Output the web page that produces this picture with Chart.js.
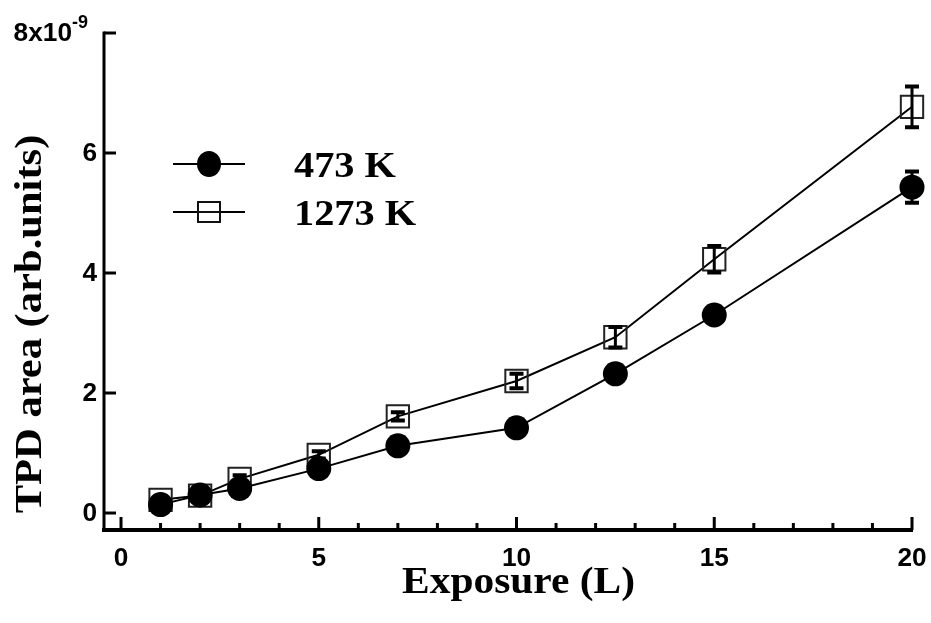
<!DOCTYPE html>
<html>
<head>
<meta charset="utf-8">
<script src="https://cdn.jsdelivr.net/npm/chart.js@4"></script>
<style>
html,body{margin:0;padding:0;background:#fff;}
#wrap{width:931px;height:623px;position:relative;}
</style>
</head>
<body>
<div id="wrap"><canvas id="c" width="931" height="623"></canvas></div>
<script>
// ---- data ----
const exposure = [1, 2, 3, 5, 7, 10, 12.5, 15, 20];
const area473 = [0.14, 0.30, 0.41, 0.74, 1.12, 1.42, 2.32, 3.30, 5.43];
const err473 = [0, 0, 0, 0, 0, 0, 0, 0, 0.26];
const area1273 = [0.22, 0.29, 0.57, 0.97, 1.61, 2.20, 2.93, 4.23, 6.77];
const err1273 = [0, 0, 0.06, 0.06, 0.07, 0.12, 0.17, 0.22, 0.34];
const seriesLabels = ['473 K', '1273 K'];
const xTickValues = [0, 5, 10, 15, 20];
const xTickLabels = ['0', '5', '10', '15', '20'];
const xMinorValues = [1, 2, 3, 4, 6, 7, 8, 9, 11, 12, 13, 14, 16, 17, 18, 19];
const yTickValues = [0, 2, 4, 6, 8];
const yTickLabels = ['0', '2', '4', '6', '8x10'];
const yExponent = '-9';
const xTitle = 'Exposure (L)';
const yTitle = 'TPD area (arb.units)';

const SERIF = '"Liberation Serif", "Times New Roman", serif';
const SANS = '"Liberation Sans", Arial, sans-serif';

function toPoints(xs, ys) { return xs.map((x, i) => ({ x: x, y: ys[i] })); }

function scaledText(ctx, text, x, y, align, sx) {
  ctx.save();
  ctx.translate(x, y);
  ctx.scale(sx, 1);
  ctx.textAlign = align;
  ctx.fillText(text, 0, 0);
  ctx.restore();
}

const axesPlugin = {
  id: 'axesPlugin',
  afterDatasetsDraw(chart) {
    const ctx = chart.ctx;
    const xs = chart.scales.x, ys = chart.scales.y;
    const ca = chart.chartArea;
    ctx.save();
    ctx.strokeStyle = '#000';
    ctx.fillStyle = '#000';
    // error bars
    const drawErr = (vals, errs) => {
      vals.forEach((v, i) => {
        const e = errs[i];
        if (!e) return;
        const px = xs.getPixelForValue(exposure[i]);
        const top = ys.getPixelForValue(v + e);
        const bot = ys.getPixelForValue(v - e);
        ctx.lineWidth = 3;
        ctx.beginPath();
        ctx.moveTo(px, top); ctx.lineTo(px, bot);
        ctx.stroke();
        ctx.lineWidth = 4;
        ctx.beginPath();
        ctx.moveTo(px - 7, top); ctx.lineTo(px + 7, top);
        ctx.moveTo(px - 7, bot); ctx.lineTo(px + 7, bot);
        ctx.stroke();
      });
    };
    drawErr(area1273, err1273);
    drawErr(area473, err473);

    // axes lines
    ctx.lineCap = 'butt';
    ctx.lineWidth = 4;
    ctx.beginPath();
    ctx.moveTo(ca.left - 2, ca.bottom);
    ctx.lineTo(ca.right + 1, ca.bottom);
    ctx.stroke();
    ctx.lineWidth = 3;
    ctx.beginPath();
    ctx.moveTo(ca.left, ys.getPixelForValue(8) - 1.5);
    ctx.lineTo(ca.left, ca.bottom);
    ctx.stroke();
    // x ticks (inward, up)
    ctx.lineWidth = 3;
    xTickValues.forEach(v => {
      const px = xs.getPixelForValue(v);
      ctx.beginPath();
      ctx.moveTo(px, ca.bottom); ctx.lineTo(px, ca.bottom - 13);
      ctx.stroke();
    });
    xMinorValues.forEach(v => {
      const px = xs.getPixelForValue(v);
      ctx.beginPath();
      ctx.moveTo(px, ca.bottom); ctx.lineTo(px, ca.bottom - 7);
      ctx.stroke();
    });
    // y ticks (inward, right)
    yTickValues.forEach(v => {
      const py = ys.getPixelForValue(v);
      ctx.beginPath();
      ctx.moveTo(ca.left, py); ctx.lineTo(ca.left + 12, py);
      ctx.stroke();
    });
    // tick labels
    ctx.font = 'bold 25px ' + SANS;
    ctx.textBaseline = 'alphabetic';
    xTickValues.forEach((v, i) => {
      scaledText(ctx, xTickLabels[i], xs.getPixelForValue(v), ca.bottom + 36, 'center', 1.05);
    });
    ctx.textBaseline = 'middle';
    yTickValues.forEach((v, i) => {
      const py = ys.getPixelForValue(v);
      if (i === yTickValues.length - 1) {
        scaledText(ctx, yTickLabels[i], 72, py + 1, 'right', 1.05);
        ctx.font = 'bold 18px ' + SANS;
        ctx.textBaseline = 'alphabetic';
        scaledText(ctx, yExponent, 72, py - 5, 'left', 1.0);
        ctx.font = 'bold 25px ' + SANS;
        ctx.textBaseline = 'middle';
      } else {
        scaledText(ctx, yTickLabels[i], 97, py + 1, 'right', 1.05);
      }
    });
    // axis titles
    ctx.textBaseline = 'alphabetic';
    ctx.font = 'bold 37px ' + SERIF;
    scaledText(ctx, xTitle, (xs.getPixelForValue(0) + xs.getPixelForValue(20)) / 2 + 2, 593, 'center', 1.12);
    ctx.save();
    ctx.translate(41, 324);
    ctx.rotate(-Math.PI / 2);
    ctx.font = 'bold 38px ' + SERIF;
    scaledText(ctx, yTitle, 0, 0, 'center', 1.12);
    ctx.restore();

    // legend
    const ds = chart.data.datasets;
    const legY = [164, 212];
    ctx.lineWidth = 2;
    legY.forEach((ly, i) => {
      ctx.beginPath();
      ctx.moveTo(173, ly); ctx.lineTo(245, ly);
      ctx.stroke();
      if (i === 0) {
        ctx.beginPath();
        ctx.ellipse(209, ly, 12, 13, 0, 0, Math.PI * 2);
        ctx.fill();
      } else {
        ctx.fillStyle = '#fff';
        ctx.fillRect(198, ly - 10, 22, 20);
        ctx.fillStyle = '#000';
        ctx.strokeStyle = '#111';
        ctx.strokeRect(198, ly - 10, 22, 20);
        ctx.beginPath();
        ctx.moveTo(198, ly); ctx.lineTo(220, ly);
        ctx.stroke();
        ctx.strokeStyle = '#000';
      }
      ctx.font = 'bold 36px ' + SERIF;
      scaledText(ctx, ds[i].label, 294, ly + 13, 'left', 1.12);
    });
    ctx.restore();
  }
};

new Chart(document.getElementById('c'), {
  type: 'line',
  data: {
    datasets: [
      {
        label: seriesLabels[0],
        data: toPoints(exposure, area473),
        borderColor: '#000',
        borderWidth: 2,
        backgroundColor: '#000',
        pointBackgroundColor: '#000',
        pointBorderColor: '#000',
        pointStyle: 'circle',
        pointRadius: 12.5,
        pointBorderWidth: 0,
        pointHoverRadius: 12.5,
        tension: 0,
        clip: false
      },
      {
        label: seriesLabels[1],
        data: toPoints(exposure, area1273),
        borderColor: '#000',
        borderWidth: 2,
        backgroundColor: 'rgba(0,0,0,0)',
        pointBackgroundColor: 'rgba(0,0,0,0)',
        pointBorderColor: '#222',
        pointStyle: 'rect',
        pointRadius: 15.8,
        pointBorderWidth: 2,
        pointHoverRadius: 15.8,
        tension: 0,
        clip: false
      }
    ]
  },
  options: {
    responsive: false,
    animation: false,
    events: [],
    layout: { padding: { left: 104, right: 19, top: 33, bottom: 93 } },
    plugins: { legend: { display: false }, tooltip: { enabled: false }, title: { display: false } },
    scales: {
      x: { type: 'linear', min: -0.43, max: 20, display: false },
      y: { type: 'linear', min: -0.283, max: 8, display: false }
    }
  },
  plugins: [axesPlugin]
});
</script>
</body>
</html>
